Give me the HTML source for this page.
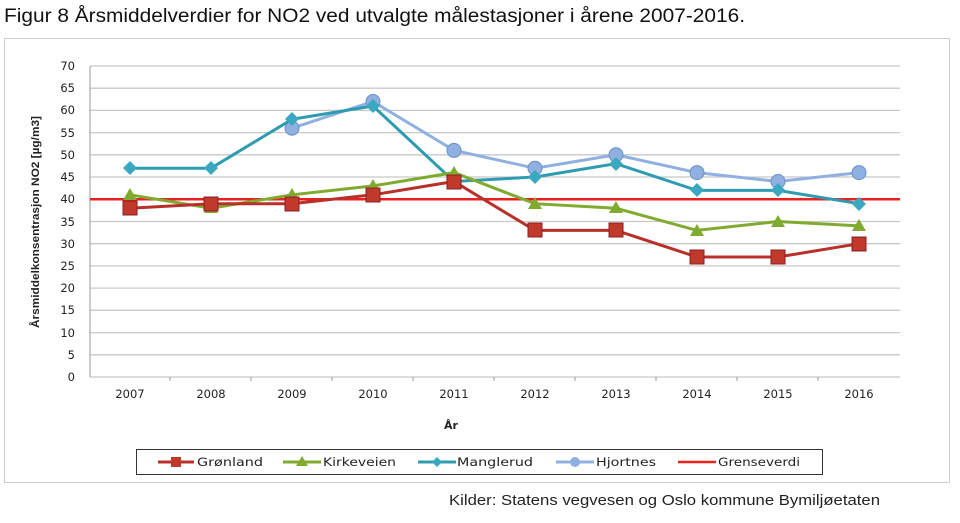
<!DOCTYPE html>
<html><head><meta charset="utf-8"><style>
body{margin:0;width:960px;height:518px;background:#fff;overflow:hidden;font-family:"Liberation Sans",sans-serif}
</style></head><body>
<svg width="960" height="518" xmlns="http://www.w3.org/2000/svg" font-family="Liberation Sans, sans-serif">
<text x="4" y="22" font-size="19" fill="#111" textLength="741" lengthAdjust="spacingAndGlyphs">Figur 8 Årsmiddelverdier for NO2 ved utvalgte målestasjoner i årene 2007-2016.</text>
<rect x="4.5" y="38.5" width="945" height="444" fill="#fff" stroke="#ccc"/>
<g stroke="#c8c8c8" stroke-width="1.3">
<line x1="90" x2="900" y1="66" y2="66"/><line x1="90" x2="900" y1="88.2" y2="88.2"/><line x1="90" x2="900" y1="110.4" y2="110.4"/><line x1="90" x2="900" y1="132.6" y2="132.6"/><line x1="90" x2="900" y1="154.8" y2="154.8"/><line x1="90" x2="900" y1="177" y2="177"/><line x1="90" x2="900" y1="199.3" y2="199.3"/><line x1="90" x2="900" y1="221.5" y2="221.5"/><line x1="90" x2="900" y1="243.7" y2="243.7"/><line x1="90" x2="900" y1="265.9" y2="265.9"/><line x1="90" x2="900" y1="288.1" y2="288.1"/><line x1="90" x2="900" y1="310.3" y2="310.3"/><line x1="90" x2="900" y1="332.6" y2="332.6"/><line x1="90" x2="900" y1="354.8" y2="354.8"/><line x1="90" x2="900" y1="377" y2="377"/>
</g>
<line x1="90" x2="90" y1="66" y2="377" stroke="#999"/>
<g stroke="#999"><line x1="170" x2="170" y1="377" y2="381"/><line x1="251" x2="251" y1="377" y2="381"/><line x1="332" x2="332" y1="377" y2="381"/><line x1="413" x2="413" y1="377" y2="381"/><line x1="494" x2="494" y1="377" y2="381"/><line x1="575" x2="575" y1="377" y2="381"/><line x1="656" x2="656" y1="377" y2="381"/><line x1="737" x2="737" y1="377" y2="381"/><line x1="818" x2="818" y1="377" y2="381"/></g>
<g font-size="11.5" fill="#222" text-anchor="end" font-family="DejaVu Sans, sans-serif">
<text x="75" y="70">70</text><text x="75" y="92">65</text><text x="75" y="114">60</text><text x="75" y="137">55</text><text x="75" y="159">50</text><text x="75" y="181">45</text><text x="75" y="203">40</text><text x="75" y="226">35</text><text x="75" y="248">30</text><text x="75" y="270">25</text><text x="75" y="292">20</text><text x="75" y="314">15</text><text x="75" y="337">10</text><text x="75" y="359">5</text><text x="75" y="381">0</text>
</g>
<g font-size="11.5" fill="#222" text-anchor="middle" font-family="DejaVu Sans, sans-serif">
<text x="130" y="398">2007</text><text x="211" y="398">2008</text><text x="292" y="398">2009</text><text x="373" y="398">2010</text><text x="454" y="398">2011</text><text x="535" y="398">2012</text><text x="616" y="398">2013</text><text x="697" y="398">2014</text><text x="778" y="398">2015</text><text x="859" y="398">2016</text>
<text x="451" y="429" font-weight="bold" font-size="11">År</text>
</g>
<text transform="translate(39,222) rotate(-90)" text-anchor="middle" font-size="11" font-weight="bold" fill="#222" textLength="212" lengthAdjust="spacingAndGlyphs">Årsmiddelkonsentrasjon NO2 [µg/m3]</text>
<line x1="90" x2="900" y1="199.3" y2="199.3" stroke="#e82020" stroke-width="2.5"/>
<polyline fill="none" stroke="#8fb0e0" stroke-width="3" points="292,128.2 373,101.5 454,150.4 535,168.2 616,154.8 697,172.6 778,181.5 859,172.6"/>
<g fill="#8fb0e0" stroke="#6a8fc8"><circle cx="292" cy="128.2" r="7"/><circle cx="373" cy="101.5" r="7"/><circle cx="454" cy="150.4" r="7"/><circle cx="535" cy="168.2" r="7"/><circle cx="616" cy="154.8" r="7"/><circle cx="697" cy="172.6" r="7"/><circle cx="778" cy="181.5" r="7"/><circle cx="859" cy="172.6" r="7"/></g>
<polyline fill="none" stroke="#2e9bb0" stroke-width="3" points="130,168.2 211,168.2 292,119.3 373,106 454,181.5 535,177 616,163.7 697,190.4 778,190.4 859,203.7"/>
<g fill="#3aa8c0"><path d="M130 161l7 7-7 7-7-7z"/><path d="M211 161l7 7-7 7-7-7z"/><path d="M292 112l7 7-7 7-7-7z"/><path d="M373 99l7 7-7 7-7-7z"/><path d="M454 174l7 7-7 7-7-7z"/><path d="M535 170l7 7-7 7-7-7z"/><path d="M616 157l7 7-7 7-7-7z"/><path d="M697 183l7 7-7 7-7-7z"/><path d="M778 183l7 7-7 7-7-7z"/><path d="M859 197l7 7-7 7-7-7z"/></g>
<polyline fill="none" stroke="#80aa30" stroke-width="3" points="130,194.8 211,208.2 292,194.8 373,185.9 454,172.6 535,203.7 616,208.2 697,230.4 778,221.5 859,225.9"/>
<g fill="#80aa30"><path d="M130 188l7 12h-14z"/><path d="M211 201l7 12h-14z"/><path d="M292 188l7 12h-14z"/><path d="M373 179l7 12h-14z"/><path d="M454 166l7 12h-14z"/><path d="M535 197l7 12h-14z"/><path d="M616 201l7 12h-14z"/><path d="M697 224l7 12h-14z"/><path d="M778 215l7 12h-14z"/><path d="M859 219l7 12h-14z"/></g>
<polyline fill="none" stroke="#b8302a" stroke-width="3" points="130,208.2 211,203.7 292,203.7 373,194.8 454,181.5 535,230.4 616,230.4 697,257 778,257 859,243.7"/>
<g fill="#c0392b" stroke="#8a2020"><rect x="123" y="201" width="14" height="14"/><rect x="204" y="197" width="14" height="14"/><rect x="285" y="197" width="14" height="14"/><rect x="366" y="188" width="14" height="14"/><rect x="447" y="175" width="14" height="14"/><rect x="528" y="223" width="14" height="14"/><rect x="609" y="223" width="14" height="14"/><rect x="690" y="250" width="14" height="14"/><rect x="771" y="250" width="14" height="14"/><rect x="852" y="237" width="14" height="14"/></g>
<rect x="136.5" y="449.5" width="686" height="25" fill="#fff" stroke="#333"/>
<g font-size="11.5" fill="#222" font-family="DejaVu Sans, sans-serif">
<line x1="158" x2="194" y1="462" y2="462" stroke="#b8302a" stroke-width="3"/><rect x="171" y="457" width="10" height="10" fill="#c0392b"/><text x="197" y="466" textLength="66" lengthAdjust="spacingAndGlyphs">Grønland</text>
<line x1="283" x2="321" y1="462" y2="462" stroke="#80aa30" stroke-width="3"/><path d="M302 456l6 10h-12z" fill="#80aa30"/><text x="323" y="466" textLength="73" lengthAdjust="spacingAndGlyphs">Kirkeveien</text>
<line x1="418" x2="456" y1="462" y2="462" stroke="#2e9bb0" stroke-width="3"/><path d="M437 457l5 5-5 5-5-5z" fill="#3aa8c0"/><text x="457" y="466" textLength="76" lengthAdjust="spacingAndGlyphs">Manglerud</text>
<line x1="556" x2="594" y1="462" y2="462" stroke="#8fb0e0" stroke-width="3"/><circle cx="575" cy="462" r="5" fill="#8fb0e0"/><text x="596" y="466" textLength="60" lengthAdjust="spacingAndGlyphs">Hjortnes</text>
<line x1="678" x2="716" y1="462" y2="462" stroke="#e82020" stroke-width="2.5"/><text x="718" y="466" textLength="82" lengthAdjust="spacingAndGlyphs">Grenseverdi</text>
</g>
<text x="449" y="505" font-size="14.5" fill="#222" textLength="431" lengthAdjust="spacingAndGlyphs">Kilder: Statens vegvesen og Oslo kommune Bymiljøetaten</text>
</svg>
</body></html>
